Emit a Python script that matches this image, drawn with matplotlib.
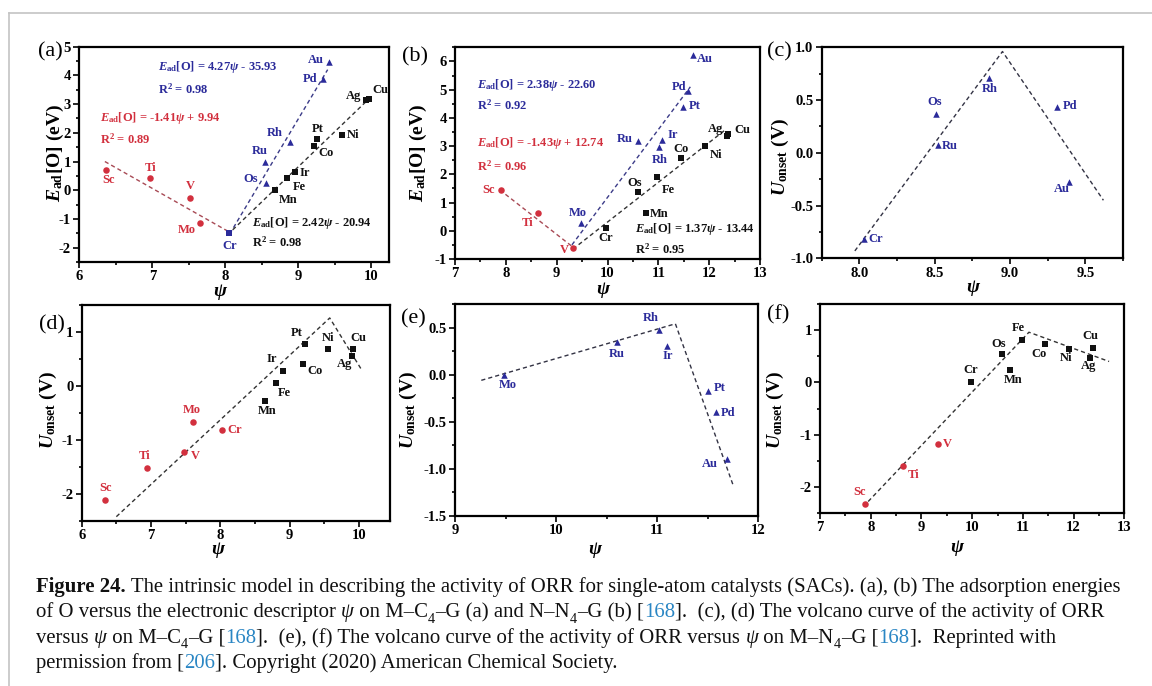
import matplotlib
matplotlib.use("Agg")
import matplotlib.pyplot as plt
from matplotlib.ticker import MultipleLocator
from matplotlib.lines import Line2D
from matplotlib.font_manager import FontProperties

plt.rcParams['font.family'] = ['Liberation Serif', 'DejaVu Serif']
plt.rcParams['mathtext.fontset'] = 'custom'
plt.rcParams['mathtext.rm'] = 'Liberation Serif:bold'
plt.rcParams['mathtext.it'] = 'Liberation Serif:italic:bold'
plt.rcParams['mathtext.bf'] = 'Liberation Serif:bold'
plt.rcParams['axes.unicode_minus'] = False

RED = '#d2303e'
BLUE = '#2b2b9a'
BLACK = '#111111'
CITE = '#2a86c4'

# ---------------- data ----------------
# (a) E_ad[O] vs psi, M-C4-G
a_red_el = ['Sc', 'Ti', 'V', 'Mo']
a_red_x = [6.37, 6.97, 7.52, 7.65]
a_red_y = [0.72, 0.43, -0.26, -1.13]
a_blue_el = ['Cr', 'Os', 'Ru', 'Rh', 'Pd', 'Au']
a_blue_x = [8.05, 8.55, 8.54, 8.88, 9.33, 9.42]
a_blue_y = [-1.50, 0.26, 0.97, 1.68, 3.87, 4.48]
a_blk_el = ['Mn', 'Fe', 'Ir', 'Co', 'Pt', 'Ni', 'Ag', 'Cu']
a_blk_x = [8.68, 8.85, 8.95, 9.22, 9.26, 9.59, 9.93, 9.97]
a_blk_y = [0.00, 0.41, 0.63, 1.53, 1.80, 1.93, 3.13, 3.17]
a_fit_red = ([6.35, 8.05], [1.00, -1.45])
a_fit_blue = ([8.06, 9.40], [-1.52, 4.20])
a_fit_blk = ([8.10, 9.98], [-1.38, 3.22])
a_eq = ['$E_{\\mathrm{ad}}$[O] = 4.27$\\psi$ - 35.93', 'R$^2$ = 0.98',
        '$E_{\\mathrm{ad}}$[O] = -1.41$\\psi$ + 9.94', 'R$^2$ = 0.89',
        '$E_{\\mathrm{ad}}$[O] = 2.42$\\psi$ - 20.94', 'R$^2$ = 0.98']

# (b) E_ad[O] vs psi, N-N4-G
b_red_el = ['Sc', 'Ti', 'V']
b_red_x = [7.91, 8.63, 9.32]
b_red_y = [1.44, 0.62, -0.62]
b_blue_el = ['Mo', 'Ru', 'Rh', 'Ir', 'Pt', 'Pd', 'Au']
b_blue_x = [9.48, 10.60, 11.02, 11.08, 11.49, 11.58, 11.68]
b_blue_y = [0.29, 3.18, 2.97, 3.21, 4.39, 4.95, 6.21]
b_blk_el = ['Cr', 'Os', 'Mn', 'Fe', 'Co', 'Ni', 'Ag', 'Cu']
b_blk_x = [9.97, 10.60, 10.75, 10.98, 11.44, 11.91, 12.35, 12.38]
b_blk_y = [0.09, 1.38, 0.62, 1.91, 2.58, 3.00, 3.35, 3.43]
b_fit_red = ([7.88, 9.30], [1.45, -0.55])
b_fit_blue = ([9.30, 11.63], [-0.50, 5.10])
b_fit_blk = ([9.32, 12.30], [-0.65, 3.55])
b_eq = ['$E_{\\mathrm{ad}}$[O] = 2.38$\\psi$ - 22.60', 'R$^2$ = 0.92',
        '$E_{\\mathrm{ad}}$[O] = -1.43$\\psi$ + 12.74', 'R$^2$ = 0.96',
        '$E_{\\mathrm{ad}}$[O] = 1.37$\\psi$ - 13.44', 'R$^2$ = 0.95']

# (c) U_onset vs psi, M-C4-G
c_el = ['Cr', 'Os', 'Ru', 'Rh', 'Pd', 'Au']
c_x = [8.03, 8.51, 8.52, 8.86, 9.31, 9.39]
c_y = [-0.82, 0.37, 0.07, 0.71, 0.43, -0.28]
c_volcano = ([7.97, 8.95, 9.62], [-0.93, 0.96, -0.45])

# (d) U_onset vs psi, M-C4-G
d_red_el = ['Sc', 'Ti', 'V', 'Mo', 'Cr']
d_red_x = [6.34, 6.94, 7.48, 7.61, 8.02]
d_red_y = [-2.12, -1.52, -1.23, -0.66, -0.82]
d_blk_el = ['Mn', 'Fe', 'Ir', 'Co', 'Pt', 'Ni', 'Ag', 'Cu']
d_blk_x = [8.65, 8.81, 8.91, 9.20, 9.22, 9.55, 9.90, 9.92]
d_blk_y = [-0.27, 0.06, 0.27, 0.41, 0.78, 0.69, 0.56, 0.69]
d_volcano = ([6.50, 9.58, 10.04], [-2.42, 1.26, 0.30])

# (e) U_onset vs psi, M-N4-G
e_el = ['Mo', 'Ru', 'Rh', 'Ir', 'Pt', 'Pd', 'Au']
e_x = [9.48, 10.60, 11.02, 11.10, 11.50, 11.58, 11.69]
e_y = [0.00, 0.35, 0.47, 0.30, -0.17, -0.40, -0.90]
e_volcano = ([9.26, 11.18, 11.75], [-0.06, 0.54, -1.17])

# (f) U_onset vs psi, M-N4-G
f_red_el = ['Sc', 'Ti', 'V']
f_red_x = [7.88, 8.63, 9.33]
f_red_y = [-2.33, -1.60, -1.17]
f_blk_el = ['Cr', 'Os', 'Mn', 'Fe', 'Co', 'Ni', 'Ag', 'Cu']
f_blk_x = [9.98, 10.58, 10.75, 10.98, 11.44, 11.90, 12.33, 12.38]
f_blk_y = [0.01, 0.55, 0.24, 0.82, 0.74, 0.63, 0.47, 0.66]
f_volcano = ([7.95, 11.12, 12.70], [-2.28, 0.96, 0.40])

# label offsets (pixels, right / up) for element names
OFF = {
    'a_red': [(2, -10), (0, 10), (0, 12), (-13, -7)],
    'a_blue': [(1, -13), (-15, 4), (-5, 11), (-15, 9), (-12, 0), (-13, 2)],
    'a_blk': [(13, -10), (12, -9), (10, -1), (12, -7), (0, 10), (12, 0), (-13, 4), (11, 9)],
    'b_red': [(-13, 0), (-10, -10), (-9, -2)],
    'b_blue': [(-3, 10), (-13, 2), (0, -13), (10, 5), (11, 1), (-9, 4), (12, -4)],
    'b_blk': [(0, -10), (-3, 9), (13, -1), (11, -13), (0, 9), (11, -9), (-11, 7), (14, 4)],
    'c': [(12, 0), (-2, 12), (12, -1), (1, -11), (13, 1), (-7, -7)],
    'd_red': [(0, 12), (-2, 12), (11, -4), (-1, 12), (13, 0)],
    'd_blk': [(2, -10), (8, -10), (-12, 12), (12, -7), (-8, 11), (0, 11), (-7, -8), (5, 11)],
    'e': [(4, -10), (0, -12), (-8, 12), (0, -10), (12, 3), (12, -1), (-17, -5)],
    'f_red': [(-5, 12), (11, -9), (9, 0)],
    'f_blk': [(0, 12), (-3, 10), (3, -10), (-3, 12), (-6, -10), (-2, -9), (-2, -8), (-3, 12)],
}

W, H = 1152, 686
fig = plt.figure(figsize=(W / 100, H / 100), dpi=100)
fig.patch.set_facecolor('white')


def px_axes(l, t, r, b):
    return fig.add_axes([l / W, 1 - b / H, (r - l) / W, (b - t) / H])


def style(ax, xlim, ylim, xmaj, xmin, ymaj, ymin, xfmt=None, yfmt=None):
    ax.set_xlim(*xlim)
    ax.set_ylim(*ylim)
    ax.xaxis.set_major_locator(MultipleLocator(xmaj))
    ax.xaxis.set_minor_locator(MultipleLocator(xmin))
    ax.yaxis.set_major_locator(MultipleLocator(ymaj))
    ax.yaxis.set_minor_locator(MultipleLocator(ymin))
    if xfmt:
        ax.xaxis.set_major_formatter(plt.FormatStrFormatter(xfmt))
    if yfmt:
        ax.yaxis.set_major_formatter(plt.FormatStrFormatter(yfmt))
    for s in ax.spines.values():
        s.set_linewidth(1.6)
    ax.tick_params(which='both', direction='out', width=1.2, top=False, right=False,
                   labelsize=10.5, pad=2)
    ax.tick_params(which='major', length=4)
    ax.tick_params(which='minor', length=2.5)
    for lab in ax.get_xticklabels() + ax.get_yticklabels():
        lab.set_fontweight('bold')


def group(ax, el, x, y, color, marker, offs, size=22):
    ax.scatter(x, y, s=size, marker=marker, color=color, zorder=3, linewidths=0)
    for e, xi, yi, (dx, dy) in zip(el, x, y, offs):
        ax.annotate(e, (xi, yi), xytext=(dx, dy), textcoords='offset pixels',
                    ha='center', va='center', color=color, fontsize=9,
                    fontweight='bold')


def fit(ax, line, color):
    ax.plot(line[0], line[1], ls=(0, (3, 2.2)), lw=1.0, color=color, zorder=2)


def labels(lbl, lpos, ylab, ypos, xpos):
    fig.text(lpos[0] / W, 1 - lpos[1] / H, lbl, fontsize=16, ha='center', va='center')
    fig.text(ypos[0] / W, 1 - ypos[1] / H, ylab, fontsize=14, fontweight='bold',
             rotation=90, ha='center', va='center')
    fig.text(xpos[0] / W, 1 - xpos[1] / H, 'ψ', fontsize=14, fontweight='bold',
             style='italic', ha='center', va='center')


YE = '$E_{\\mathrm{ad}}$[O] (eV)'
YU = '$U_{\\mathrm{onset}}$ (V)'

# ---- (a)
ax = px_axes(79.3, 46.7, 389, 262)
style(ax, (6, 10.24), (-2.5, 5), 1, 0.5, 1, 0.5)
fit(ax, a_fit_red, '#a84a55')
fit(ax, a_fit_blue, '#3b3b88')
fit(ax, a_fit_blk, '#333333')
group(ax, a_red_el, a_red_x, a_red_y, RED, 'o', OFF['a_red'])
group(ax, a_blue_el[:1], a_blue_x[:1], a_blue_y[:1], BLUE, 's', OFF['a_blue'][:1])
group(ax, a_blue_el[1:], a_blue_x[1:], a_blue_y[1:], BLUE, '^', OFF['a_blue'][1:])
group(ax, a_blk_el, a_blk_x, a_blk_y, BLACK, 's', OFF['a_blk'])
for txt, (tx, ty), col in zip(a_eq, [(7.08, 4.3), (7.08, 3.5), (6.28, 2.52), (6.28, 1.76),
                                    (8.36, -1.13), (8.36, -1.82)],
                              [BLUE, BLUE, RED, RED, BLACK, BLACK]):
    ax.text(tx, ty, txt, color=col, fontsize=9, fontweight='bold', ha='left', va='center')
labels('(a)', (50, 52), YE, (55, 153), (220, 292))

# ---- (b)
ax = px_axes(455, 47.3, 760, 259)
style(ax, (7, 13), (-1, 6.5), 1, 0.5, 1, 0.5)
fit(ax, b_fit_red, '#a84a55')
fit(ax, b_fit_blue, '#3b3b88')
fit(ax, b_fit_blk, '#333333')
group(ax, b_red_el, b_red_x, b_red_y, RED, 'o', OFF['b_red'])
group(ax, b_blue_el, b_blue_x, b_blue_y, BLUE, '^', OFF['b_blue'])
group(ax, b_blk_el, b_blk_x, b_blk_y, BLACK, 's', OFF['b_blk'])
for txt, (tx, ty), col in zip(b_eq, [(7.43, 5.17), (7.43, 4.46), (7.43, 3.12), (7.43, 2.27),
                                    (10.54, 0.05), (10.54, -0.66)],
                              [BLUE, BLUE, RED, RED, BLACK, BLACK]):
    ax.text(tx, ty, txt, color=col, fontsize=9, fontweight='bold', ha='left', va='center')
labels('(b)', (415, 57), YE, (418, 153), (603, 289))

# ---- (c)
ax = px_axes(821.7, 47.3, 1123, 258.3)
style(ax, (7.75, 9.75), (-1, 1), 0.5, 0.25, 0.5, 0.25, xfmt='%.1f', yfmt='%.1f')
fit(ax, c_volcano, '#333344')
group(ax, c_el, c_x, c_y, BLUE, '^', OFF['c'])
labels('(c)', (779, 52), YU, (780, 157), (973, 288))

# ---- (d)
ax = px_axes(81.7, 305, 390, 521)
style(ax, (6, 10.45), (-2.5, 1.5), 1, 0.5, 1, 0.5)
fit(ax, d_volcano, '#333333')
group(ax, d_red_el, d_red_x, d_red_y, RED, 'o', OFF['d_red'])
group(ax, d_blk_el, d_blk_x, d_blk_y, BLACK, 's', OFF['d_blk'])
labels('(d)', (52, 325), YU, (48, 410), (218, 550))

# ---- (e)
ax = px_axes(455, 304, 758.3, 516)
style(ax, (9, 12), (-1.5, 0.75), 1, 0.5, 0.5, 0.25, yfmt='%.1f')
fit(ax, e_volcano, '#333344')
group(ax, e_el, e_x, e_y, BLUE, '^', OFF['e'])
labels('(e)', (413, 319), YU, (408, 410), (595, 550))

# ---- (f)
ax = px_axes(820, 304, 1124.3, 513)
style(ax, (7, 13), (-2.5, 1.5), 1, 0.5, 1, 0.5)
fit(ax, f_volcano, '#333333')
group(ax, f_red_el, f_red_x, f_red_y, RED, 'o', OFF['f_red'])
group(ax, f_blk_el, f_blk_x, f_blk_y, BLACK, 's', OFF['f_blk'])
labels('(f)', (778, 315), YU, (775, 410), (957, 548))

# ---- frame around the figure
fig.add_artist(Line2D([9 / W, 1], [1 - 13 / H, 1 - 13 / H], color='#c4c4c4', lw=1.2,
                      transform=fig.transFigure))
fig.add_artist(Line2D([9 / W, 9 / W], [1 - 13 / H, 0], color='#c4c4c4', lw=1.2,
                      transform=fig.transFigure))

# ---- caption
N = {}
B = {'weight': 'bold'}
I = {'style': 'italic'}
C = {'color': CITE}
S = {'sub': True}
cap = [
    [('Figure 24.', B), (' The intrinsic model in describing the activity of ORR for single-atom '
                         'catalysts (SACs). (a), (b) The adsorption energies', N)],
    [('of O versus the electronic descriptor ', N), ('ψ', I), (' on M–C', N), ('4', S),
     ('–G (a) and N–N', N), ('4', S), ('–G (b) [', N), ('168', C),
     ('].  (c), (d) The volcano curve of the activity of ORR', N)],
    [('versus ', N), ('ψ', I), (' on M–C', N), ('4', S), ('–G [', N), ('168', C),
     ('].  (e), (f) The volcano curve of the activity of ORR versus ', N), ('ψ', I),
     (' on M–N', N), ('4', S), ('–G [', N), ('168', C), ('].  Reprinted with', N)],
    [('permission from [', N), ('206', C), (']. Copyright (2020) American Chemical Society.', N)],
]
renderer = fig.canvas.get_renderer()


def seg_width(txt, kw, size):
    fp = FontProperties(family='Liberation Serif', weight=kw.get('weight', 'normal'),
                        style=kw.get('style', 'normal'),
                        size=size * (0.68 if kw.get('sub') else 1))
    w1 = renderer.get_text_width_height_descent('I' + txt + 'I', fp, ismath=False)[0]
    w0 = renderer.get_text_width_height_descent('II', fp, ismath=False)[0]
    return w1 - w0, fp


def line_width(segs, size):
    return sum(seg_width(t, k, size)[0] for t, k in segs)


size = 10.0 * (1122 - 36) / line_width(cap[0], 10.0)
for i, segs in enumerate(cap):
    x = 36
    y = 592 + 25.3 * i
    for txt, kw in segs:
        w, fp = seg_width(txt, kw, size)
        yy = y + (size * 0.35 if kw.get('sub') else 0)
        fig.text(x / W, 1 - yy / H, txt, fontproperties=fp, color=kw.get('color', '#111111'),
                 ha='left', va='baseline')
        x += w

fig.savefig('out.png', dpi=100, facecolor='white')
